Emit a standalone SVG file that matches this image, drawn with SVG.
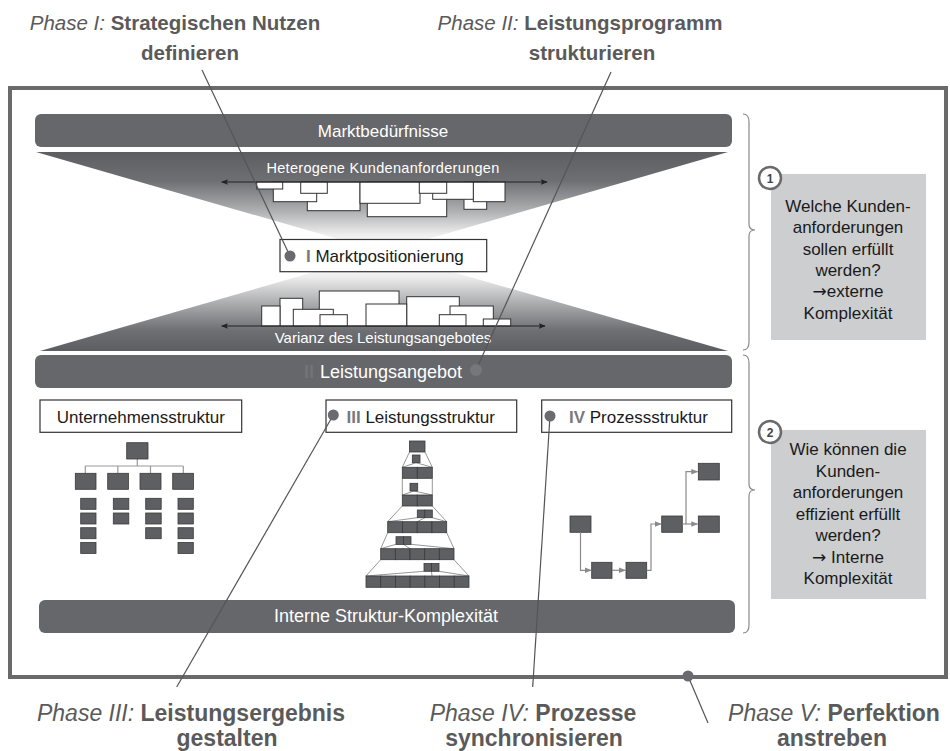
<svg xmlns="http://www.w3.org/2000/svg" width="950" height="751" viewBox="0 0 950 751">
<defs>
<style>
text{font-family:"Liberation Sans",Arial,sans-serif}
.ph{font-size:20.5px;fill:#5a5a5a}
.phb{font-size:23px;fill:#5a5a5a}
.it{font-style:italic}
.b{font-weight:bold}
.bar{fill:#66676b}
.bt{fill:#fff;text-anchor:middle}
.lbl{fill:#fff;stroke:#333;stroke-width:1.2}
.lt{font-size:17px;fill:#1a1a1a}
.gray{fill:#7a7a7c;font-weight:bold}
.blk{fill:#fff;stroke:#333;stroke-width:1}
.cell{fill:#5e5f63;stroke:#3a3a3a;stroke-width:0.8}
.thin{stroke:#6a6a6a;stroke-width:0.7;fill:none}
.org{stroke:#9a9a9a;stroke-width:1.2;fill:none}
.pc{stroke:#8a8a8a;stroke-width:1.2;fill:none;marker-end:url(#pa)}
.lead{stroke:#555;stroke-width:1.2;fill:none}
.dot{fill:#6b6b6f}
.brace{stroke:#8a8a8a;stroke-width:1.2;fill:none}
.qbox{fill:#cdcecf}
.qt{font-size:17px;fill:#1a1a1a;text-anchor:middle}
.arr{font-family:"DejaVu Sans",sans-serif}
.num{fill:#fff;stroke:#6a6a6a;stroke-width:2.5}
.numt{font-size:12px;fill:#444;text-anchor:middle;font-weight:bold}
.dbl{stroke:#222;stroke-width:1;marker-start:url(#ah);marker-end:url(#ah)}
</style>
<marker id="ah" viewBox="0 0 10 10" refX="9" refY="5" markerWidth="7" markerHeight="7" markerUnits="userSpaceOnUse" orient="auto-start-reverse"><path d="M0,1 L10,5 L0,9 L2,5 Z" fill="#222"/></marker>
<marker id="pa" viewBox="0 0 10 10" refX="9" refY="5" markerWidth="7" markerHeight="7" markerUnits="userSpaceOnUse" orient="auto"><path d="M0,1 L10,5 L0,9 Z" fill="#8a8a8a"/></marker>
<linearGradient id="gUp" gradientUnits="userSpaceOnUse" x1="0" y1="152" x2="0" y2="248">
<stop offset="0" stop-color="#5d5e62"/><stop offset="0.3" stop-color="#6e6f73"/><stop offset="0.62" stop-color="#b0b1b3"/><stop offset="0.86" stop-color="#eeeeee"/><stop offset="1" stop-color="#ffffff"/>
</linearGradient>
<linearGradient id="gDn" gradientUnits="userSpaceOnUse" x1="0" y1="258" x2="0" y2="351">
<stop offset="0" stop-color="#ffffff"/><stop offset="0.2" stop-color="#eeeeee"/><stop offset="0.48" stop-color="#adaeb0"/><stop offset="0.78" stop-color="#6e6f73"/><stop offset="1" stop-color="#5d5e62"/>
</linearGradient>
</defs>
<rect width="950" height="751" fill="#fff"/>

<!-- phase labels -->
<g id="label-phase1"><text class="ph" x="175" y="30" text-anchor="middle"><tspan class="it">Phase I:</tspan> <tspan class="b">Strategischen Nutzen</tspan></text><text class="ph b" x="190" y="60" text-anchor="middle">definieren</text></g>
<g id="label-phase2"><text class="ph" x="580" y="30" text-anchor="middle"><tspan class="it">Phase II:</tspan> <tspan class="b">Leistungsprogramm</tspan></text><text class="ph b" x="592" y="60" text-anchor="middle">strukturieren</text></g>
<g id="label-phase3"><text class="phb" x="191" y="721" text-anchor="middle"><tspan class="it">Phase III:</tspan> <tspan class="b">Leistungsergebnis</tspan></text><text class="phb b" x="227" y="746" text-anchor="middle">gestalten</text></g>
<g id="label-phase4"><text class="phb" x="533" y="721" text-anchor="middle"><tspan class="it">Phase IV:</tspan> <tspan class="b">Prozesse</tspan></text><text class="phb b" x="534" y="746" text-anchor="middle">synchronisieren</text></g>
<g id="label-phase5"><text class="phb" x="834" y="721" text-anchor="middle"><tspan class="it">Phase V:</tspan> <tspan class="b">Perfektion</tspan></text><text class="phb b" x="832" y="746" text-anchor="middle">anstreben</text></g>

<!-- frame -->
<g id="frame"><rect x="10" y="88" width="936" height="589" fill="#fff" stroke="#6a6a6a" stroke-width="4"/></g>

<!-- funnels -->
<g id="funnel-top">
<polygon points="36,152 728,152 383,252" fill="url(#gUp)"/>
<text class="bt" x="383" y="173" font-size="14.5" letter-spacing="0.3">Heterogene Kundenanforderungen</text>
<rect class="blk" x="367.3" y="182" width="79.4" height="34.7"/>
<rect class="blk" x="307.3" y="182" width="52.7" height="28.7"/>
<rect class="blk" x="464" y="182" width="22.7" height="27.3"/>
<rect class="blk" x="360" y="182" width="60" height="21.3"/>
<rect class="blk" x="273.3" y="182" width="43.4" height="19.7"/>
<rect class="blk" x="473.3" y="182" width="31.7" height="19.7"/>
<rect class="blk" x="432.7" y="182" width="40.6" height="17.3"/>
<rect class="blk" x="300.7" y="182" width="26.6" height="11.3"/>
<rect class="blk" x="419.3" y="182" width="27.4" height="11.3"/>
<rect class="blk" x="256.7" y="182" width="26" height="7"/>
<line class="dbl" x1="221.7" y1="182" x2="547" y2="182"/>
</g>
<g id="funnel-bottom">
<polygon points="40,351 728,351 383,252" fill="url(#gDn)"/>
<rect class="blk" x="319.3" y="291" width="79.7" height="35"/>
<rect class="blk" x="406.7" y="296.7" width="52.6" height="29.3"/>
<rect class="blk" x="280" y="298.3" width="22.7" height="27.7"/>
<rect class="blk" x="366" y="304" width="40.7" height="22"/>
<rect class="blk" x="261.7" y="306" width="18.3" height="20"/>
<rect class="blk" x="450" y="306" width="43.3" height="20"/>
<rect class="blk" x="293.3" y="309.3" width="40" height="16.7"/>
<rect class="blk" x="320" y="314.7" width="27.3" height="11.3"/>
<rect class="blk" x="439.3" y="314.7" width="26.7" height="11.3"/>
<rect class="blk" x="483.3" y="319" width="27.4" height="7"/>
<line class="dbl" x1="221.7" y1="326" x2="545" y2="326"/>
<text class="bt" x="383" y="343" font-size="15">Varianz des Leistungsangebotes</text>
</g>

<!-- bars -->
<g id="bar-marktbeduerfnisse"><rect class="bar" x="35" y="114" width="697" height="33" rx="6"/><text class="bt" x="383" y="137" font-size="17">Marktbedürfnisse</text></g>
<g id="bar-leistungsangebot"><rect class="bar" x="35" y="355" width="697" height="33" rx="6"/><text x="304" y="377.5" font-size="18" font-weight="bold" fill="#727377">II</text><text class="bt" x="391" y="377.5" font-size="18">Leistungsangebot</text></g>
<g id="bar-interne"><rect class="bar" x="39" y="600" width="696" height="33" rx="6"/><text class="bt" x="386" y="622" font-size="18">Interne Struktur-Komplexität</text></g>

<!-- Marktpositionierung -->
<g id="node-marktpositionierung"><rect class="lbl" x="280" y="239.5" width="206.7" height="32.2"/><text class="lt" x="306" y="262"><tspan class="gray">I</tspan> Marktpositionierung</text></g>

<!-- Unternehmensstruktur -->
<g id="node-unternehmensstruktur">
<rect class="lbl" x="40" y="400" width="201.7" height="32.3"/><text class="lt" x="140.8" y="423" text-anchor="middle">Unternehmensstruktur</text>
<path class="org" d="M137.3,459 V466 M85.3,466 H183.3 M85.3,466 V473.3 M117.8,466 V473.3 M150.5,466 V473.3 M183.3,466 V473.3"/>
<rect class="cell" x="126.7" y="442.7" width="21.3" height="16.3"/>
<rect class="cell" x="75.3" y="473.3" width="20.7" height="16"/>
<rect class="cell" x="107.7" y="473.3" width="20.7" height="16"/>
<rect class="cell" x="140" y="473.3" width="21" height="16"/>
<rect class="cell" x="172.7" y="473.3" width="20.7" height="16"/>
<rect class="cell" x="80.7" y="498.3" width="15.3" height="11"/><rect class="cell" x="80.7" y="513" width="15.3" height="11"/><rect class="cell" x="80.7" y="527.7" width="15.3" height="11"/><rect class="cell" x="80.7" y="542.4" width="15.3" height="11"/>
<rect class="cell" x="113.3" y="498.3" width="15.5" height="11"/><rect class="cell" x="113.3" y="513" width="15.5" height="11"/>
<rect class="cell" x="145.7" y="498.3" width="15.5" height="11"/><rect class="cell" x="145.7" y="513" width="15.5" height="11"/><rect class="cell" x="145.7" y="527.7" width="15.5" height="11"/>
<rect class="cell" x="178" y="498.3" width="15.3" height="11"/><rect class="cell" x="178" y="513" width="15.3" height="11"/><rect class="cell" x="178" y="527.7" width="15.3" height="11"/><rect class="cell" x="178" y="542.4" width="15.3" height="11"/>
</g>

<!-- Leistungsstruktur -->
<g id="node-leistungsstruktur">
<rect class="lbl" x="326" y="400" width="190.7" height="32.3"/><text class="lt" x="346.5" y="423"><tspan class="gray">III</tspan> Leistungsstruktur</text>
<path class="thin" d="M409.5,452 L402.3,467.3 M425,452 L432.3,467.3 M402.3,478.3 V495 M432.3,478.3 V495 M402.3,506 L387.7,521.7 M432.3,506 L446.7,521.7 M387.7,532.7 L380.7,548.7 M446.7,532.7 L454,548.7 M380.7,559.7 L366,576 M454,559.7 L469,576"/>
<path class="thin" d="M416,462.7 L402.3,467.3 M416,462.7 L432.3,467.3 M414,491 L402.3,495 M414,491 L432.3,495 M417.3,517.7 L387.7,521.7 M432.3,517.7 L446.7,521.7 M424.8,517.7 L417.3,521.7 M396,544.3 L380.7,548.7 M411,544.3 L454,548.7 M403.5,544.3 L410,548.7 M424,571.3 L366,576 M439,571.3 L469,576 M431.5,571.3 L432,576"/>
<rect class="cell" x="409.5" y="441" width="15.5" height="11"/>
<rect class="cell" x="412.3" y="455" width="7.7" height="7.7"/>
<rect class="cell" x="402.3" y="467.3" width="15" height="11"/><rect class="cell" x="417.3" y="467.3" width="15" height="11"/>
<rect class="cell" x="410" y="483.3" width="7.7" height="7.7"/>
<rect class="cell" x="402.3" y="495" width="15" height="11"/><rect class="cell" x="417.3" y="495" width="15" height="11"/>
<rect class="cell" x="417.3" y="510" width="7.5" height="7.7"/><rect class="cell" x="424.8" y="510" width="7.5" height="7.7"/>
<rect class="cell" x="387.7" y="521.7" width="14.75" height="11"/><rect class="cell" x="402.45" y="521.7" width="14.75" height="11"/><rect class="cell" x="417.2" y="521.7" width="14.75" height="11"/><rect class="cell" x="431.95" y="521.7" width="14.75" height="11"/>
<rect class="cell" x="396" y="536.7" width="7.5" height="7.7"/><rect class="cell" x="403.5" y="536.7" width="7.5" height="7.7"/>
<rect class="cell" x="380.7" y="548.7" width="14.66" height="11"/><rect class="cell" x="395.36" y="548.7" width="14.66" height="11"/><rect class="cell" x="410.02" y="548.7" width="14.66" height="11"/><rect class="cell" x="424.68" y="548.7" width="14.66" height="11"/><rect class="cell" x="439.34" y="548.7" width="14.66" height="11"/>
<rect class="cell" x="424" y="563.5" width="7.5" height="7.8"/><rect class="cell" x="431.5" y="563.5" width="7.5" height="7.8"/>
<rect class="cell" x="366" y="576" width="14.71" height="11.3"/><rect class="cell" x="380.71" y="576" width="14.71" height="11.3"/><rect class="cell" x="395.42" y="576" width="14.71" height="11.3"/><rect class="cell" x="410.13" y="576" width="14.71" height="11.3"/><rect class="cell" x="424.84" y="576" width="14.71" height="11.3"/><rect class="cell" x="439.55" y="576" width="14.71" height="11.3"/><rect class="cell" x="454.26" y="576" width="14.74" height="11.3"/>
</g>

<!-- Prozessstruktur -->
<g id="node-prozessstruktur">
<rect class="lbl" x="541.7" y="400" width="190" height="32.3"/><text class="lt" x="569" y="423"><tspan class="gray">IV</tspan> Prozessstruktur</text>
<rect class="cell" x="570" y="516" width="21" height="16.3"/>
<rect class="cell" x="591.7" y="562.3" width="20.3" height="16"/>
<rect class="cell" x="626" y="562.3" width="20.7" height="16"/>
<rect class="cell" x="661.7" y="516" width="20.6" height="16.3"/>
<rect class="cell" x="698.3" y="516" width="21" height="16.3"/>
<rect class="cell" x="698.3" y="463.3" width="21" height="16.7"/>
</g>

<!-- braces and question boxes -->
<g id="brace-1"><path class="brace" d="M743,114 Q749,114 749,122 L749,224 Q749,230 755,230 Q749,230 749,236 L749,342 Q749,350 743,350"/></g>
<g id="brace-2"><path class="brace" d="M743,355 Q749,355 749,363 L749,484 Q749,490 755,490 Q749,490 749,496 L749,625 Q749,633 743,633"/></g>
<g id="question-1">
<rect class="qbox" x="771" y="174" width="155" height="166"/>
<circle class="num" cx="770" cy="178" r="11"/><text class="numt" x="770" y="182.5">1</text>
<text class="qt" x="848" y="212">Welche Kunden-</text>
<text class="qt" x="848" y="233.3">anforderungen</text>
<text class="qt" x="848" y="254.6">sollen erfüllt</text>
<text class="qt" x="848" y="275.9">werden?</text>
<text class="qt" x="848" y="297.2"><tspan class="arr">→</tspan>externe</text>
<text class="qt" x="848" y="318.5">Komplexität</text>
</g>
<g id="question-2">
<rect class="qbox" x="771" y="430" width="155" height="169"/>
<circle class="num" cx="770" cy="432" r="11"/><text class="numt" x="770" y="436.5">2</text>
<text class="qt" x="848" y="455">Wie können die</text>
<text class="qt" x="848" y="476.5">Kunden-</text>
<text class="qt" x="848" y="498">anforderungen</text>
<text class="qt" x="848" y="519.5">effizient erfüllt</text>
<text class="qt" x="848" y="541">werden?</text>
<text class="qt" x="848" y="562.5"><tspan class="arr">→</tspan> Interne</text>
<text class="qt" x="848" y="584">Komplexität</text>
</g>

<!-- connectors -->
<g id="connectors">
<path class="pc" d="M580.5,532.3 V570.3 H591"/>
<path class="pc" d="M612,570.3 H625.3"/>
<path class="pc" d="M646.7,570.3 H651 V524 H661"/>
<path class="pc" d="M682.3,524 H697.6"/>
<path class="pc" d="M686,524 V471.7 H697.6"/>
<line class="lead" x1="202" y1="70" x2="290" y2="256"/>
<line class="lead" x1="611" y1="72" x2="476" y2="370"/>
<line class="lead" x1="333.3" y1="415" x2="176.7" y2="687"/>
<line class="lead" x1="550" y1="416" x2="532.7" y2="687"/>
<line class="lead" x1="688" y1="676" x2="708" y2="723"/>
<circle class="dot" cx="290" cy="256" r="5.5"/>
<circle cx="476" cy="370" r="6" fill="#76777b"/>
<circle class="dot" cx="333.3" cy="415" r="5.5"/>
<circle class="dot" cx="550" cy="416" r="5.5"/>
<circle class="dot" cx="688" cy="676" r="5.5"/>
</g>
</svg>
